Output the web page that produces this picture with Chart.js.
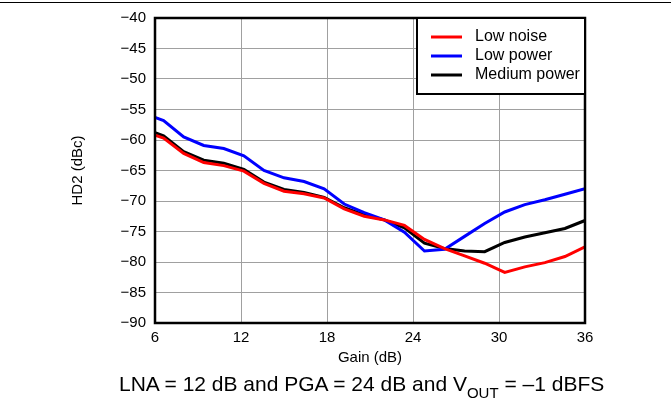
<!DOCTYPE html>
<html>
<head>
<meta charset="utf-8">
<script src="https://cdn.jsdelivr.net/npm/chart.js@4.4.1/dist/chart.umd.min.js"></script>
<style>
  body { margin: 0; background: #fff; }
  #wrap { position: relative; width: 671px; height: 407px; }
  #topline { position: absolute; left: 0; top: 2px; width: 671px; height: 0; border-top: 1.5px solid #000; }
  #caption {
    position: absolute; left: 119px; top: 373px;
    font-family: "Liberation Sans", Arial, sans-serif; font-size: 21px; line-height: 21px;
    white-space: nowrap; color: #000;
  }
  #caption .sub { font-size: 15px; position: relative; top: 7px; }
</style>
</head>
<body>
<div id="wrap">
  <canvas id="chart" width="671" height="407"></canvas>
  <div id="topline"></div>
  <div id="caption">LNA = 12 dB and PGA = 24 dB and V<span class="sub">OUT</span> = –1 dBFS</div>
</div>
<script>
const gains = [6, 6.6, 8, 9.4, 10.8, 12.2, 13.6, 15, 16.4, 17.8, 19.2, 20.6, 22, 23.4, 24.8, 26.2, 27.6, 29, 30.4, 31.8, 33.2, 34.6, 36];
const lowNoise = [-59.2, -59.7, -62.2, -63.7, -64.2, -65.1, -67.1, -68.4, -68.8, -69.5, -71.3, -72.5, -73.1, -74.0, -76.3, -77.8, -79.0, -80.2, -81.7, -80.8, -80.1, -79.1, -77.5];
const lowPower = [-56.3, -56.8, -59.5, -60.9, -61.4, -62.6, -65.0, -66.2, -66.8, -68.0, -70.5, -71.9, -73.1, -75.1, -78.2, -77.9, -75.8, -73.7, -71.8, -70.6, -69.8, -68.9, -68.0];
const mediumPower = [-58.8, -59.3, -61.9, -63.3, -63.8, -64.8, -66.9, -68.1, -68.6, -69.4, -71.1, -72.3, -73.1, -74.4, -76.9, -77.8, -78.2, -78.3, -76.8, -75.9, -75.2, -74.5, -73.2];
const seriesNames = ["Low noise", "Low power", "Medium power"];
const seriesColors = ["#ff0000", "#0000ff", "#000000"];

const font = "Liberation Sans, Arial, sans-serif";

const toPoints = (values) => values.map((v, i) => ({ x: gains[i], y: v }));

// frame round the plot and the boxed legend top right
const framePlugin = {
  id: "frame",
  afterDatasetsDraw(chart) {
    const { ctx, chartArea } = chart;
    ctx.save();
    ctx.strokeStyle = "#000";
    ctx.lineWidth = 2.5;
    ctx.strokeRect(chartArea.left, chartArea.top, chartArea.right - chartArea.left, chartArea.bottom - chartArea.top);

    const boxW = 168, boxH = 76;
    const bx = chartArea.right - boxW, by = chartArea.top;
    ctx.fillStyle = "#fff";
    ctx.fillRect(bx, by, boxW, boxH);
    ctx.lineWidth = 2;
    ctx.strokeRect(bx, by, boxW, boxH);

    ctx.font = "16px " + font;
    ctx.textBaseline = "middle";
    chart.data.datasets.forEach((ds, i) => {
      const y = by + 19 + i * 19;
      ctx.strokeStyle = ds.borderColor;
      ctx.lineWidth = 3;
      ctx.beginPath();
      ctx.moveTo(bx + 14, y);
      ctx.lineTo(bx + 45, y);
      ctx.stroke();
      ctx.fillStyle = "#000";
      ctx.fillText(ds.label, bx + 58, y);
    });
    ctx.restore();
  }
};

new Chart(document.getElementById("chart"), {
  type: "line",
  data: {
    datasets: [lowNoise, lowPower, mediumPower].map((values, i) => ({
      label: seriesNames[i],
      data: toPoints(values),
      borderColor: seriesColors[i],
      borderWidth: 3,
      pointRadius: 0,
      tension: 0,
      fill: false,
    })),
  },
  options: {
    responsive: false,
    animation: false,
    layout: { padding: { left: 0, top: 17, right: 86, bottom: 0 } },
    plugins: { legend: { display: false }, tooltip: { enabled: false } },
    scales: {
      x: {
        type: "linear",
        min: 6,
        max: 36,
        ticks: { stepSize: 6, color: "#000", padding: 6, font: { family: font, size: 15 } },
        grid: { color: "#a0a0a0", lineWidth: 1, drawTicks: false },
        border: { display: false },
        title: { display: true, text: "Gain (dB)", color: "#000", font: { family: font, size: 15 }, padding: { top: 0, bottom: 40 } },
        afterFit: (scale) => { scale.height = 84; },
      },
      y: {
        min: -90,
        max: -40,
        ticks: {
          stepSize: 5,
          color: "#000",
          padding: 9,
          font: { family: font, size: 15 },
          callback: (v) => String(v).replace("-", "\u2212"),
        },
        grid: { color: "#a0a0a0", lineWidth: 1, drawTicks: false },
        border: { display: false },
        title: { display: true, text: "HD2 (dBc)", color: "#000", font: { family: font, size: 15 }, padding: { top: 69, bottom: 0 } },
        afterFit: (scale) => { scale.width = 155; },
      },
    },
  },
  plugins: [framePlugin],
});
</script>
</body>
</html>
